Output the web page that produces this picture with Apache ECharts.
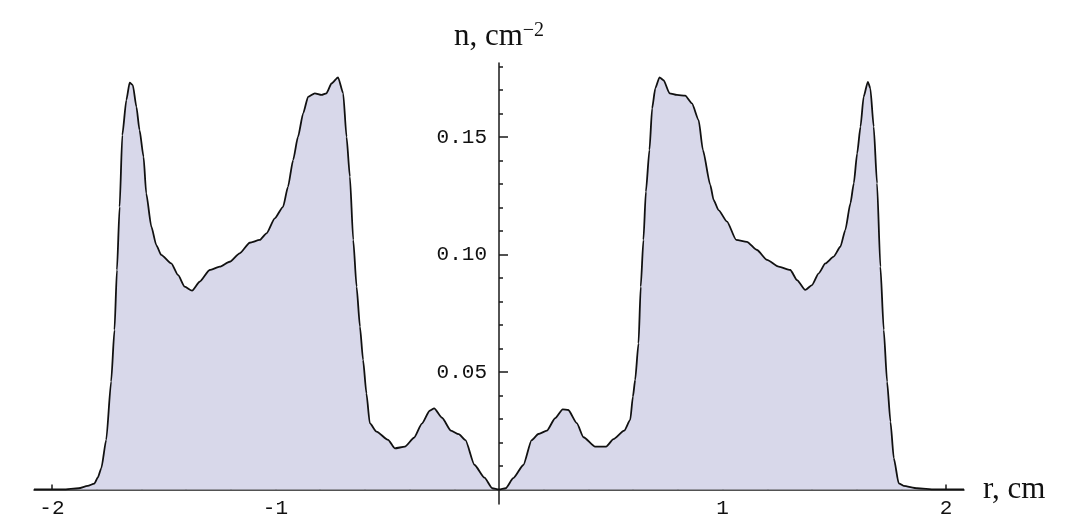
<!DOCTYPE html>
<html>
<head>
<meta charset="utf-8">
<script src="https://cdn.jsdelivr.net/npm/echarts@6/dist/echarts.min.js"></script>
<style>
  html, body { margin: 0; padding: 0; background: #ffffff; }
  #chart { width: 1065px; height: 528px; }
</style>
</head>
<body>
<div id="chart"></div>
<script>
// Radial density profile n(r)
const radius = [
  -2.08, -1.95, -1.88, -1.84, -1.81, -1.795, -1.779, -1.757, -1.735, -1.720,
  -1.709, -1.697, -1.685, -1.667, -1.652, -1.638, -1.622, -1.608, -1.590, -1.578,
  -1.555, -1.533, -1.511, -1.466, -1.436, -1.406, -1.373, -1.339, -1.294, -1.249,
  -1.205, -1.160, -1.115, -1.070, -1.040, -1.003, -0.966, -0.944, -0.921, -0.899,
  -0.876, -0.854, -0.824, -0.794, -0.772, -0.749, -0.720, -0.697, -0.682, -0.667,
  -0.652, -0.637, -0.622, -0.608, -0.593, -0.578, -0.548, -0.496, -0.466, -0.421,
  -0.380, -0.345, -0.310, -0.290, -0.255, -0.215, -0.180, -0.150, -0.110, -0.065,
  -0.030, 0.000,
  0.030, 0.064, 0.109, 0.146, 0.176, 0.214, 0.251, 0.285, 0.310, 0.348,
  0.378, 0.430, 0.479, 0.512, 0.560, 0.587, 0.599, 0.609, 0.624, 0.634,
  0.646, 0.657, 0.673, 0.685, 0.699, 0.718, 0.736, 0.763, 0.796, 0.833,
  0.863, 0.893, 0.912, 0.945, 0.960, 0.982, 1.020, 1.061, 1.109, 1.154,
  1.199, 1.251, 1.303, 1.333, 1.370, 1.400, 1.430, 1.460, 1.497, 1.527,
  1.549, 1.572, 1.587, 1.602, 1.617, 1.631, 1.650, 1.661, 1.676, 1.691,
  1.706, 1.721, 1.736, 1.751, 1.766, 1.788, 1.810, 1.870, 1.950, 2.080
];
const density = [
  0.0000, 0.0000, 0.0005, 0.0015, 0.0025, 0.0050, 0.0090, 0.0211, 0.0459, 0.0679,
  0.0934, 0.1203, 0.1508, 0.1657, 0.1731, 0.1721, 0.1629, 0.1530, 0.1416, 0.1260,
  0.1118, 0.1040, 0.0998, 0.0962, 0.0913, 0.0863, 0.0846, 0.0884, 0.0934, 0.0948,
  0.0969, 0.1005, 0.1050, 0.1062, 0.1090, 0.1154, 0.1203, 0.1288, 0.1402, 0.1501,
  0.1601, 0.1671, 0.1686, 0.1679, 0.1686, 0.1728, 0.1754, 0.1686, 0.1501, 0.1331,
  0.1062, 0.0863, 0.0693, 0.0551, 0.0409, 0.0282, 0.0246, 0.0211, 0.0175, 0.0182,
  0.0220, 0.0280, 0.0335, 0.0345, 0.0305, 0.0250, 0.0235, 0.0210, 0.0105, 0.0050,
  0.0005, 0.0000,
  0.0005, 0.0048, 0.0104, 0.0210, 0.0236, 0.0250, 0.0303, 0.0341, 0.0338, 0.0282,
  0.0222, 0.0182, 0.0182, 0.0214, 0.0250, 0.0296, 0.0395, 0.0466, 0.0622, 0.0863,
  0.1062, 0.1267, 0.1445, 0.1622, 0.1707, 0.1754, 0.1742, 0.1686, 0.1679, 0.1676,
  0.1643, 0.1572, 0.1445, 0.1296, 0.1232, 0.1189, 0.1140, 0.1062, 0.1054, 0.1019,
  0.0977, 0.0948, 0.0934, 0.0891, 0.0849, 0.0870, 0.0920, 0.0962, 0.0991, 0.1033,
  0.1104, 0.1218, 0.1303, 0.1430, 0.1544, 0.1671, 0.1735, 0.1707, 0.1544, 0.1303,
  0.0948, 0.0679, 0.0459, 0.0289, 0.0133, 0.0026, 0.0015, 0.0005, 0.0000, 0.0000
];

// Tick positions
const xMajorTicks = [-2, -1, 1, 2];
const xMinorTicks = [-1.8, -1.6, -1.4, -1.2, -0.8, -0.6, -0.4, -0.2,
                     0.2, 0.4, 0.6, 0.8, 1.2, 1.4, 1.6, 1.8];
const yMajorTicks = [0.05, 0.10, 0.15];
const yMinorTicks = [0.01, 0.02, 0.03, 0.04, 0.06, 0.07, 0.08, 0.09,
                     0.11, 0.12, 0.13, 0.14, 0.16, 0.17, 0.18];

const xRange = [-2.08, 2.08];
const yRange = [-0.0062, 0.1815];

const points = radius.map((r, i) => [r, density[i]]);

// Plot area and the crossing of the two axes at the origin
const W = 1065, H = 528;
const GRID = { left: 34, right: 101, top: 63, bottom: 24 };
const gridW = W - GRID.left - GRID.right;
const gridH = H - GRID.top - GRID.bottom;
// distance from the grid's left edge to r = 0, and from its bottom edge to n = 0
const yAxisShift = gridW * (0 - xRange[0]) / (xRange[1] - xRange[0]);
const xAxisShift = gridH * (0 - yRange[0]) / (yRange[1] - yRange[0]);

const AXIS_COLOR = '#1a1a1a';
const TICK_FONT = '"Liberation Mono", "DejaVu Sans Mono", monospace';
const NAME_FONT = '"Liberation Serif", "DejaVu Serif", serif';

const chart = echarts.init(document.getElementById('chart'), null, { renderer: 'canvas' });

const xBase = {
  type: 'value', position: 'bottom', offset: -xAxisShift,
  min: xRange[0], max: xRange[1],
  splitLine: { show: false }
};
const yBase = {
  type: 'value', position: 'left', offset: -yAxisShift,
  min: yRange[0], max: yRange[1],
  splitLine: { show: false }
};

chart.setOption({
  backgroundColor: '#ffffff',
  animation: false,
  grid: Object.assign({ containLabel: false, outerBoundsMode: 'none' }, GRID),
  xAxis: [
    Object.assign({}, xBase, {
      axisLine: { show: true, onZero: false, lineStyle: { color: AXIS_COLOR, width: 1.5 } },
      axisTick: { show: true, inside: true, length: 5, customValues: xMajorTicks,
                  lineStyle: { color: AXIS_COLOR, width: 1.5 } },
      axisLabel: { show: true, customValues: xMajorTicks, margin: 9,
                   fontFamily: TICK_FONT, fontSize: 21, color: '#111',
                   formatter: v => String(Math.round(v)) },
      name: 'r, cm', nameLocation: 'end', nameGap: 19,
      nameTextStyle: { fontFamily: NAME_FONT, fontSize: 31, color: '#111',
                       verticalAlign: 'middle', align: 'left', padding: [12, 0, 0, 0] }
    }),
    Object.assign({}, xBase, {
      axisLine: { show: false, onZero: false },
      axisTick: { show: true, inside: true, length: 3, customValues: xMinorTicks,
                  lineStyle: { color: AXIS_COLOR, width: 1.5 } },
      axisLabel: { show: false }
    })
  ],
  yAxis: [
    Object.assign({}, yBase, {
      axisLine: { show: true, onZero: false, lineStyle: { color: AXIS_COLOR, width: 1.5 } },
      axisTick: { show: true, inside: true, length: 9, customValues: yMajorTicks,
                  lineStyle: { color: AXIS_COLOR, width: 1.5 } },
      axisLabel: { show: true, customValues: yMajorTicks, margin: 12,
                   fontFamily: TICK_FONT, fontSize: 21, color: '#111',
                   formatter: v => v.toFixed(2) },
      name: '{b|n, cm}{s|\u22122}', nameLocation: 'end', nameGap: 10,
      nameTextStyle: {
        rich: {
          b: { fontFamily: NAME_FONT, fontSize: 31, lineHeight: 32, color: '#111' },
          s: { fontFamily: NAME_FONT, fontSize: 20, lineHeight: 24, verticalAlign: 'top', color: '#111' }
        }
      }
    }),
    Object.assign({}, yBase, {
      axisLine: { show: false, onZero: false },
      axisTick: { show: true, inside: true, length: 4, customValues: yMinorTicks,
                  lineStyle: { color: AXIS_COLOR, width: 1.5 } },
      axisLabel: { show: false }
    })
  ],
  series: [
    {
      type: 'line',
      xAxisIndex: 0, yAxisIndex: 0,
      data: points,
      showSymbol: false,
      smooth: 0.2,
      smoothMonotone: 'x',
      lineStyle: { color: '#111111', width: 1.8 },
      areaStyle: { color: '#d8d8ea', opacity: 1 },
      z: 1
    }
  ]
});
</script>
</body>
</html>
